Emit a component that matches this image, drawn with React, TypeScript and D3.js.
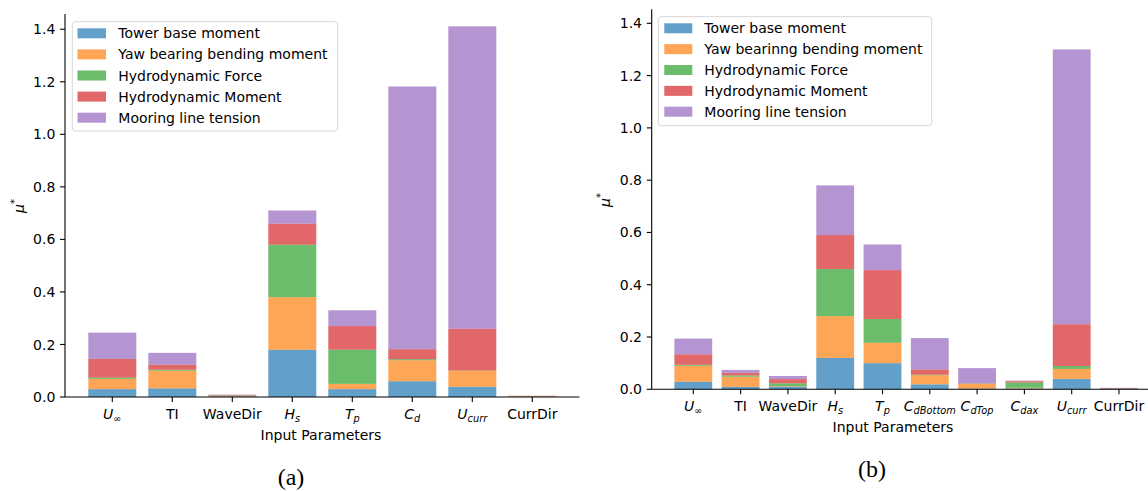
import React from 'react';
import * as d3 from 'd3';

// ---------- data ----------
const seriesNamesA = ['Tower base moment', 'Yaw bearing bending moment', 'Hydrodynamic Force', 'Hydrodynamic Moment', 'Mooring line tension'];
const seriesNamesB = ['Tower base moment', 'Yaw bearinng bending moment', 'Hydrodynamic Force', 'Hydrodynamic Moment', 'Mooring line tension'];
const seriesColors = ['#1f77b4', '#ff7f0e', '#2ca02c', '#d62728', '#9467bd'];

const categoriesA = ['U_∞', 'TI', 'WaveDir', 'H_s', 'T_p', 'C_d', 'U_curr', 'CurrDir'];
const towerA = [0.030, 0.033, 0.002, 0.180, 0.030, 0.060, 0.039, 0.001];
const yawA = [0.039, 0.067, 0.002, 0.200, 0.020, 0.080, 0.061, 0.002];
const hForceA = [0.005, 0.004, 0.002, 0.200, 0.130, 0.004, 0.001, 0.0002];
const hMomentA = [0.071, 0.019, 0.002, 0.080, 0.090, 0.038, 0.159, 0.001];
const mooringA = [0.100, 0.045, 0.001, 0.050, 0.060, 1.000, 1.151, 0.0005];

const categoriesB = ['U_∞', 'TI', 'WaveDir', 'H_s', 'T_p', 'C_dBottom', 'C_dTop', 'C_dax', 'U_curr', 'CurrDir'];
const towerB = [0.029, 0.009, 0.010, 0.120, 0.100, 0.019, 0.003, 0.003, 0.040, 0.001];
const yawB = [0.061, 0.039, 0.002, 0.160, 0.078, 0.035, 0.018, 0.003, 0.038, 0.001];
const hForceB = [0.004, 0.005, 0.011, 0.180, 0.091, 0.002, 0.001, 0.020, 0.011, 0.0005];
const hMomentB = [0.040, 0.010, 0.016, 0.130, 0.187, 0.020, 0.001, 0.005, 0.160, 0.002];
const mooringB = [0.060, 0.011, 0.012, 0.190, 0.098, 0.120, 0.058, 0.002, 1.051, 0.001];

const yTicks = [0.0, 0.2, 0.4, 0.6, 0.8, 1.0, 1.2, 1.4];
const xAxisTitle = 'Input Parameters';

const FONT = 'DejaVu Sans';
const FS = 14;

type PanelProps = {
  categories: string[];
  series: number[][];
  names: string[];
  spineX: number;
  axisRight: number;
  y0: number;
  yTop: number;
  yMax: number;
  x0: number;
  xStep: number;
  legend: { left: number; top: number; right: number; bottom: number; rowTop: number; rowStep: number; swL: number; swR: number; textX: number };
  xTitle: { x: number; y: number };
  yTitle: { x: number; y: number };
  caption: { text: string; x: number; y: number };
};

function TickLabel({ label, x, y }: { label: string; x: number; y: number }) {
  const idx = label.indexOf('_');
  if (idx < 0) {
    return (
      <text x={x} y={y} textAnchor="middle" fontFamily={FONT} fontSize={FS} fill="#000">{label}</text>
    );
  }
  const base = label.slice(0, idx);
  const sub = label.slice(idx + 1);
  return (
    <text x={x} y={y} textAnchor="middle" fontFamily={FONT} fontSize={FS} fill="#000">
      <tspan fontStyle="italic">{base}</tspan>
      <tspan fontStyle="italic" fontSize={FS * 0.7} dy={2.5}>{sub}</tspan>
    </text>
  );
}

function Panel(p: PanelProps) {
  const n = p.categories.length;
  const x = d3.scaleLinear().domain([0, n - 1]).range([p.x0, p.x0 + p.xStep * (n - 1)]);
  const y = d3.scaleLinear().domain([0, p.yMax]).range([p.y0, p.yTop]);
  const bw = 0.8 * (x(1) - x(0));
  const keys = p.series.map((_, k) => 's' + k);
  const rows = p.categories.map((c, i) => {
    const r: any = { cat: c, idx: i };
    p.series.forEach((s, k) => { r['s' + k] = s[i]; });
    return r;
  });
  const stacked = d3.stack<any>().keys(keys)(rows);
  const L = p.legend;
  return (
    <g>
      {stacked.map((layer, k) => (
        <g key={k} fill={seriesColors[k]} fillOpacity={0.7}>
          {layer.map((d, i) => (
            <rect key={i} x={x(i) - bw / 2} y={y(d[1])} width={bw} height={Math.max(0, y(d[0]) - y(d[1]))} />
          ))}
        </g>
      ))}
      {/* y axis */}
      <line x1={p.spineX} x2={p.spineX} y1={p.yTop} y2={p.y0} stroke="#000" strokeWidth={1.1} />
      {yTicks.map((t) => (
        <g key={t}>
          <line x1={p.spineX - 4.9} x2={p.spineX} y1={y(t)} y2={y(t)} stroke="#000" strokeWidth={1.1} />
          <text x={p.spineX - 9.7} y={y(t)} dy="0.36em" textAnchor="end" fontFamily={FONT} fontSize={FS} fill="#000">{t.toFixed(1)}</text>
        </g>
      ))}
      {/* x axis */}
      <line x1={p.spineX} x2={p.axisRight} y1={p.y0} y2={p.y0} stroke="#000" strokeWidth={1.1} />
      {p.categories.map((c, i) => (
        <g key={c + i}>
          <line x1={x(i)} x2={x(i)} y1={p.y0} y2={p.y0 + 4.9} stroke="#000" strokeWidth={1.1} />
          <TickLabel label={c} x={x(i)} y={p.y0 + 22} />
        </g>
      ))}
      <text x={p.xTitle.x} y={p.xTitle.y} textAnchor="middle" fontFamily={FONT} fontSize={FS} fill="#000">{xAxisTitle}</text>
      <text transform={`translate(${p.yTitle.x},${p.yTitle.y}) rotate(-90)`} textAnchor="middle" fontFamily={FONT} fontSize={FS} fill="#000">
        <tspan fontStyle="italic">μ</tspan>
        <tspan fontSize={10} dy={-6}>*</tspan>
      </text>
      {/* legend */}
      <rect x={L.left} y={L.top} width={L.right - L.left} height={L.bottom - L.top} rx={3} ry={3} fill="#fff" fillOpacity={0.8} stroke="#d6d6d6" strokeWidth={1} />
      {p.names.map((nm, k) => {
        const cy = L.rowTop + k * L.rowStep;
        return (
          <g key={nm}>
            <rect x={L.swL} y={cy - 5} width={L.swR - L.swL} height={10} fill={seriesColors[k]} fillOpacity={0.7} />
            <text x={L.textX} y={cy} dy="0.36em" fontFamily={FONT} fontSize={FS} fill="#000">{nm}</text>
          </g>
        );
      })}
      <text x={p.caption.x} y={p.caption.y} textAnchor="middle" fontFamily="Liberation Serif" fontSize={24} fill="#000">{p.caption.text}</text>
    </g>
  );
}

export default function App() {
  return (
    <svg width={1148} height={491} style={{ position: 'absolute', left: 0, top: 0, background: '#fff' }}>
      <rect x={0} y={0} width={1148} height={491} fill="#fff" />
      <Panel
        categories={categoriesA}
        series={[towerA, yawA, hForceA, hMomentA, mooringA]}
        names={seriesNamesA}
        spineX={65}
        axisRight={579.4}
        y0={397}
        yTop={14}
        yMax={1.458}
        x0={112.3}
        xStep={60}
        legend={{ left: 72.3, top: 21.7, right: 337.7, bottom: 131, rowTop: 33.3, rowStep: 21.1, swL: 77.5, swR: 106, textX: 118.3 }}
        xTitle={{ x: 321, y: 439.5 }}
        yTitle={{ x: 24, y: 206 }}
        caption={{ text: '(a)', x: 291, y: 485 }}
      />
      <Panel
        categories={categoriesB}
        series={[towerB, yawB, hForceB, hMomentB, mooringB]}
        names={seriesNamesB}
        spineX={651.7}
        axisRight={1148}
        y0={389.3}
        yTop={9.3}
        yMax={1.4536}
        x0={693.3}
        xStep={47.3}
        legend={{ left: 658.3, top: 16.7, right: 931.7, bottom: 125.7, rowTop: 28.3, rowStep: 20.85, swL: 664.3, swR: 692.3, textX: 704.3 }}
        xTitle={{ x: 893, y: 432 }}
        yTitle={{ x: 610, y: 200 }}
        caption={{ text: '(b)', x: 872, y: 477 }}
      />
    </svg>
  );
}
